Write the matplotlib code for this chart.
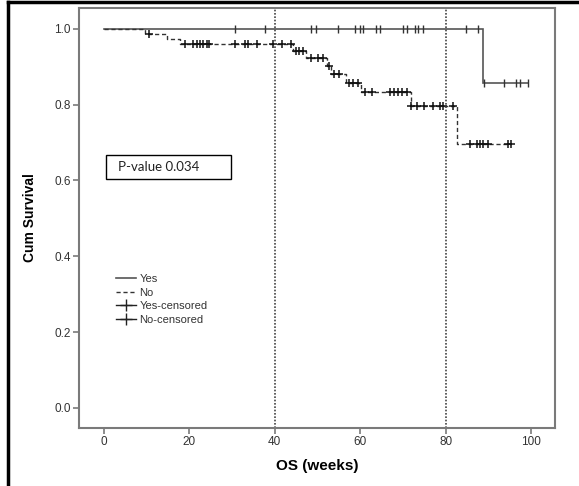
import numpy as np
import matplotlib
matplotlib.use("Agg")
import matplotlib.pyplot as plt
from matplotlib.lines import Line2D
from matplotlib.patches import Rectangle

plt.rcParams['font.family'] = ['Liberation Sans', 'DejaVu Sans']

# Kaplan-Meier step data
yes_times = [0, 88.7]
yes_surv = [1.0, 0.857]
yes_end = 99.3
yes_censor = [30.8, 37.7, 48.6, 49.6, 54.7, 58.8, 60.0, 60.7, 63.8, 64.6, 70.0, 70.9,
              72.9, 73.6, 74.7, 84.8, 87.6, 89.0, 93.7, 96.6, 97.4, 99.3]

no_times = [0, 9.6, 14.8, 17.8, 44.3, 47.4, 52.3, 53.2, 56.7, 60.3, 71.8, 82.6]
no_surv = [1.0, 0.987, 0.974, 0.960, 0.941, 0.923, 0.902, 0.881, 0.858, 0.833, 0.796, 0.696]
no_end = 95.4
no_censor = [10.5, 19.0, 20.8, 21.8, 22.5, 23.2, 24.1, 24.6, 30.8, 33.0, 33.7, 35.8,
             39.6, 41.6, 43.9, 45.0, 45.7, 46.5, 48.6, 50.2, 51.4, 52.8, 53.9, 55.1,
             57.4, 58.4, 59.5, 61.1, 62.7, 67.0, 67.9, 68.9, 69.9, 70.9, 72.0, 73.2,
             74.9, 77.1, 78.7, 79.4, 81.7, 85.7, 87.3, 88.1, 88.8, 90.0, 94.7, 95.4]

ref_lines = [40, 80]
x_ticks = [0, 20, 40, 60, 80, 100]
y_ticks = [0.0, 0.2, 0.4, 0.6, 0.8, 1.0]
pvalue_text = "P-value 0.034"


def surv_at(times, surv, t):
    idx = np.searchsorted(np.asarray(times), np.asarray(t), side='right') - 1
    return np.asarray(surv)[idx]


fig = plt.figure(figsize=(5.79, 4.86), dpi=100)
ax = fig.add_axes([0.1364, 0.1193, 0.822, 0.8642])

spine_col = '#7a7a7a'
line_col = '#555555'

# Yes curve
ax.step(list(yes_times) + [yes_end], list(yes_surv) + [yes_surv[-1]], where='post',
        color=line_col, lw=1.2, solid_joinstyle='miter')
# No curve
ax.step(list(no_times) + [no_end], list(no_surv) + [no_surv[-1]], where='post',
        color='#333333', lw=1.0, linestyle=(0, (3, 2)))

# censored marks
ax.plot(yes_censor, surv_at(yes_times, yes_surv, yes_censor), linestyle='none',
        marker='|', ms=6, mew=1.0, color='#333333')
ax.plot(no_censor, surv_at(no_times, no_surv, no_censor), linestyle='none',
        marker='+', ms=6, mew=1.1, color='#111111')

for xv in ref_lines:
    ax.axvline(xv, color='#444444', lw=1.2, linestyle=(0, (1.0, 1.0)))

ax.set_xlim(-5.85, 105.6)
ax.set_ylim(-0.053, 1.055)
ax.set_xticks(x_ticks)
ax.set_yticks(y_ticks)
ax.set_yticklabels([f"{v:.1f}" for v in y_ticks])
ax.tick_params(direction='out', length=4, width=1.2, color=spine_col,
               labelsize=8.5, labelcolor='#333333', pad=2)
for s in ax.spines.values():
    s.set_color(spine_col)
    s.set_linewidth(1.5)

ax.set_xlabel("OS (weeks)", fontsize=11, fontweight='bold', labelpad=8)
ax.set_ylabel("Cum Survival", fontsize=10, fontweight='bold', labelpad=12)

# p-value box
ax.add_patch(Rectangle((0.47, 0.604), 29.2, 0.064, fill=False, edgecolor='black', lw=1.0))
ax.text(3.3, 0.636, pvalue_text, fontsize=9.5, family=['Lato', 'DejaVu Sans'],
        va='center', ha='left', color='#222222')

handles = [
    Line2D([], [], color=line_col, lw=1.2),
    Line2D([], [], color='#333333', lw=1.0, linestyle=(0, (3, 2))),
    Line2D([], [], color='#222222', lw=1.0, marker='+', ms=8, mew=1.0),
    Line2D([], [], color='#222222', lw=1.0, marker='+', ms=8, mew=1.0),
]
labels = ["Yes", "No", "Yes-censored", "No-censored"]
leg = ax.legend(handles, labels, loc='upper left', bbox_to_anchor=(0.066, 0.38),
                frameon=False, fontsize=8, handlelength=1.8, labelspacing=0.33,
                handletextpad=0.3, borderpad=0)
for t in leg.get_texts():
    t.set_color('#333333')

# outer border lines (left and top)
fig.add_artist(Line2D([8 / 579, 8 / 579], [0, 1 - 2 / 486], color='black', lw=2.5,
                      transform=fig.transFigure))
fig.add_artist(Line2D([8 / 579, 1], [1 - 2.5 / 486, 1 - 2.5 / 486], color='black', lw=2.5,
                      transform=fig.transFigure))

fig.savefig("out.png", dpi=100)
